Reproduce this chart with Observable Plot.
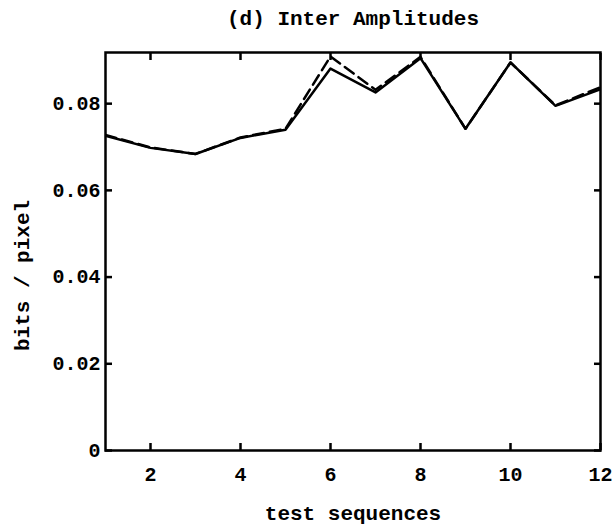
<!DOCTYPE html>
<html>
<head>
<meta charset="utf-8">
<script src="https://cdn.jsdelivr.net/npm/d3@7"></script>
<script src="https://cdn.jsdelivr.net/npm/@observablehq/plot@0.6"></script>
<style>
  html, body { margin: 0; padding: 0; background: #fff; }
  svg { display: block; }
</style>
</head>
<body>
<div id="chart"></div>
<script>
// Bit rate per test sequence for the inter-frame amplitude coding
const sequences = [1, 2, 3, 4, 5, 6, 7, 8, 9, 10, 11, 12];
const solidBits = [0.0726, 0.0698, 0.0684, 0.0721, 0.0740, 0.0881, 0.0826, 0.0905, 0.0742, 0.0895, 0.0795, 0.0833];
const dashedBits = [0.0728, 0.0699, 0.0684, 0.0722, 0.0742, 0.0909, 0.0832, 0.0908, 0.0742, 0.0895, 0.0796, 0.0838];
const xTicks = [2, 4, 6, 8, 10, 12];
const yTicks = [0, 0.02, 0.04, 0.06, 0.08];

const solidData = sequences.map((s, i) => ({s, v: solidBits[i]}));
const dashedData = sequences.map((s, i) => ({s, v: dashedBits[i]}));

const font = "'Liberation Mono', 'Courier New', monospace";

const chart = Plot.plot({
  width: 613,
  height: 529,
  marginLeft: 105,
  marginRight: 13,
  marginTop: 52,
  marginBottom: 79,
  style: {fontFamily: font, fontWeight: "bold", fontSize: "20px", color: "#000", background: "#fff"},
  x: {domain: [1, 12]},
  y: {domain: [0, 0.0918]},
  marks: [
    // inward ticks on all four sides
    Plot.axisX(xTicks, {anchor: "bottom", tickSize: 7, dy: -7, text: null, label: null, strokeWidth: 2.5}),
    Plot.axisX(xTicks, {anchor: "top", tickSize: 7, dy: 7, text: null, label: null, strokeWidth: 2.5}),
    Plot.axisY(yTicks, {anchor: "left", tickSize: 7, dx: 7, text: null, label: null, strokeWidth: 2.5}),
    Plot.axisY(yTicks, {anchor: "right", tickSize: 7, dx: -7, text: null, label: null, strokeWidth: 2.5}),
    // tick labels
    Plot.axisX(xTicks, {anchor: "bottom", tickSize: 0, tickPadding: 16, label: null, fontSize: 20, fontWeight: "bold"}),
    Plot.axisY(yTicks, {anchor: "left", tickSize: 0, tickPadding: 5, label: null, fontSize: 20, fontWeight: "bold",
      tickFormat: d => d === 0 ? "0" : d.toFixed(2)}),
    Plot.line(dashedData, {x: "s", y: "v", stroke: "#000", strokeWidth: 2.5, strokeDasharray: "11,6", clip: true}),
    Plot.line(solidData, {x: "s", y: "v", stroke: "#000", strokeWidth: 2.5, clip: true}),
    Plot.frame({stroke: "#000", strokeWidth: 2.5}),
    // titles
    Plot.text(["(d) Inter Amplitudes"], {frameAnchor: "top", lineAnchor: "middle", dy: -34, fontSize: 21, fontWeight: "bold", fill: "#000"}),
    Plot.text(["test sequences"], {frameAnchor: "bottom", lineAnchor: "middle", dy: 63, fontSize: 21, fontWeight: "bold", fill: "#000"}),
    Plot.text(["bits / pixel"], {frameAnchor: "left", textAnchor: "middle", dx: -83, dy: 24, rotate: -90, fontSize: 21, fontWeight: "bold", fill: "#000"})
  ]
});

document.getElementById("chart").appendChild(chart);
</script>
</body>
</html>
